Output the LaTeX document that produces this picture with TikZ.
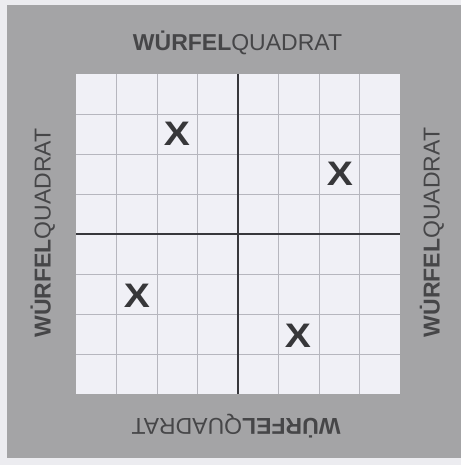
\documentclass[tikz,border=0pt]{standalone}
\usepackage{fontspec}
\setmainfont{Liberation Sans}
\definecolor{bgc}{RGB}{236,236,240}
\definecolor{framec}{RGB}{164,164,166}
\definecolor{gridfillc}{RGB}{240,240,246}
\definecolor{gridlinec}{RGB}{182,182,190}
\definecolor{axisc}{RGB}{55,55,60}
\definecolor{txtc}{RGB}{70,70,72}
\definecolor{crossc}{RGB}{55,55,58}
\begin{document}
\begin{tikzpicture}[x=1pt,y=-1pt,
  wq/.style={text=txtc,font=\fontsize{23}{23}\selectfont,inner sep=0pt,anchor=base},
  crossmark/.style={text=crossc,font=\bfseries\fontsize{34}{34}\selectfont,inner sep=0pt,xscale=1.15},
  gridln/.style={draw=gridlinec,line width=0.7pt},
  axisln/.style={draw=axisc,line width=1.2pt}]
\useasboundingbox (0,0) rectangle (461,465);
\fill[bgc] (0,0) rectangle (461,465);
\fill[framec] (7,5) rectangle (461,458);
\fill[gridfillc] (76,74) rectangle (400,394);
\foreach \i in {1,2,3,5,6,7} {
  \draw[gridln] ({76+\i*40.5},74) -- ({76+\i*40.5},394);
  \draw[gridln] (76,{74+\i*40}) -- (400,{74+\i*40});
}
\draw[axisln] (238,74) -- (238,394);
\draw[axisln] (76,234) -- (400,234);
\node[wq] (top) at (237.5,50.5) {\textbf{WU̇RFEL}QUADRAT};
\node[wq,rotate=180] (bottom) at (236,418) {\textbf{WU̇RFEL}QUADRAT};
\node[wq,rotate=90] (left) at (50.5,233) {\textbf{WU̇RFEL}QUADRAT};
\node[wq,rotate=90] (right) at (439.5,232.5) {\textbf{WU̇RFEL}QUADRAT};
\node[crossmark] (x1) at (177,134) {X};
\node[crossmark] (x2) at (340,174) {X};
\node[crossmark] (x3) at (137,296) {X};
\node[crossmark] (x4) at (298,336) {X};
\end{tikzpicture}
\end{document}
